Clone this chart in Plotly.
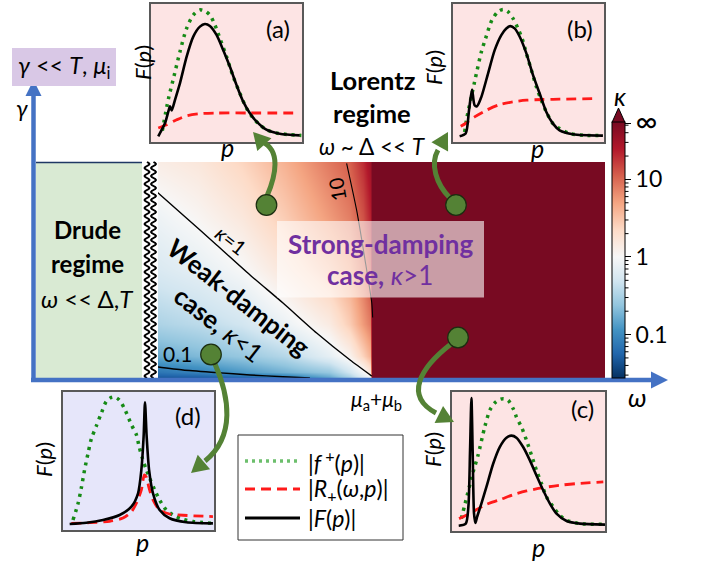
import math
import plotly.graph_objects as go

W, H = 704, 561
FONT = "Lato, 'Open Sans', sans-serif"

# ---------------- data: phase diagram (log10 kappa grid) ----------------
OMEGA_GRID = [-0.01, 0.2, 0.4, 0.6, 0.8, 0.9, 0.96, 0.99, 1.0, 2.074]
GAMMA_GRID = [0.0, 0.03, 0.1, 0.25, 0.5, 0.75, 1.0]
LOG_KAPPA = [
    [-1.35, -1.35, -1.30, -1.20, -0.85, -0.55, -0.25, -0.10, 1.74, 1.74],
    [-1.15, -1.05, -0.90, -0.75, -0.60, -0.30, -0.03, 0.20, 1.74, 1.74],
    [-0.80, -0.70, -0.60, -0.45, -0.15, 0.08, 0.40, 0.60, 1.74, 1.74],
    [-0.50, -0.42, -0.30, -0.10, 0.15, 0.45, 0.75, 0.90, 1.74, 1.74],
    [-0.25, -0.15, -0.01, 0.22, 0.50, 0.70, 0.95, 1.15, 1.74, 1.74],
    [-0.09, 0.04, 0.20, 0.45, 0.75, 0.90, 1.12, 1.35, 1.74, 1.74],
    [0.12, 0.20, 0.38, 0.62, 0.92, 1.05, 1.30, 1.50, 1.74, 1.74],
]
K1_OMEGA = [0.008, 0.129, 0.284, 0.438, 0.590, 0.745, 0.899, 0.999]
K1_GAMMA = [0.862, 0.755, 0.616, 0.477, 0.347, 0.208, 0.083, 0.009]
K01_OMEGA = [0.008, 0.129, 0.284, 0.438, 0.590, 0.714]
K01_GAMMA = [0.052, 0.037, 0.025, 0.014, 0.006, 0.0]
K10_OMEGA = [0.883, 0.929, 0.968, 0.999, 1.003]
K10_GAMMA = [0.994, 0.778, 0.546, 0.347, 0.28]

CB_MAJOR_VALS = [-1.0, 0.0, 1.0, 1.72]
CB_MAJOR_TEXT = ["0.1", "1", "10", "<span style='font-size:30px'>∞</span>"]
CB_MINOR_KAPPA = [0.03, 0.04, 0.05, 0.06, 0.07, 0.08, 0.09,
                  0.2, 0.3, 0.4, 0.5, 0.6, 0.7, 0.8, 0.9,
                  2, 3, 4, 5, 6, 7, 8, 9, 20, 30, 40, 50]

# ---------------- data: inset curves (normalised p, F) ----------------
A_GREEN_P = [0.075, 0.115, 0.152, 0.192, 0.236, 0.280, 0.324, 0.357, 0.390, 0.423, 0.460, 0.500,
             0.544, 0.588, 0.632, 0.676, 0.720, 0.764, 0.830, 0.919, 0.996]
A_GREEN_F = [0.082, 0.311, 0.475, 0.655, 0.824, 0.920, 0.957, 0.949, 0.920, 0.848, 0.740, 0.619,
             0.475, 0.354, 0.246, 0.173, 0.125, 0.089, 0.065, 0.053, 0.048]
A_BLACK_P = [0.048, 0.093, 0.115, 0.126, 0.137, 0.159, 0.192, 0.236, 0.280, 0.324, 0.357, 0.390,
             0.434, 0.478, 0.522, 0.566, 0.610, 0.654, 0.698, 0.764, 0.852, 0.985]
A_BLACK_F = [0.041, 0.137, 0.222, 0.258, 0.229, 0.306, 0.427, 0.619, 0.764, 0.836, 0.855, 0.841,
             0.776, 0.667, 0.547, 0.414, 0.294, 0.210, 0.149, 0.089, 0.060, 0.048]
A_RED_P = [0.048, 0.104, 0.170, 0.236, 0.324, 0.434, 0.654, 0.974]
A_RED_F = [0.101, 0.125, 0.161, 0.190, 0.205, 0.210, 0.210, 0.210]

B_GREEN_P = [0.077, 0.093, 0.143, 0.188, 0.216, 0.258, 0.298, 0.331, 0.364, 0.397, 0.430, 0.457,
             0.486, 0.519, 0.552, 0.585, 0.618, 0.662, 0.706, 0.773, 0.883, 0.993]
B_GREEN_F = [0.073, 0.182, 0.436, 0.654, 0.751, 0.884, 0.944, 0.961, 0.944, 0.896, 0.823, 0.751,
             0.642, 0.521, 0.400, 0.303, 0.218, 0.133, 0.097, 0.061, 0.048, 0.048]
B_BLACK_P = [0.044, 0.084, 0.106, 0.126, 0.143, 0.159, 0.188, 0.232, 0.276, 0.320, 0.353, 0.380,
             0.408, 0.442, 0.486, 0.530, 0.574, 0.618, 0.662, 0.706, 0.795, 0.993]
B_BLACK_F = [0.041, 0.061, 0.230, 0.380, 0.266, 0.259, 0.327, 0.496, 0.666, 0.775, 0.823, 0.840,
             0.823, 0.763, 0.642, 0.484, 0.351, 0.218, 0.133, 0.085, 0.056, 0.046]
B_RED_P = [0.051, 0.088, 0.143, 0.221, 0.309, 0.397, 0.486, 0.596, 0.706, 0.960]
B_RED_F = [0.114, 0.138, 0.182, 0.230, 0.271, 0.291, 0.303, 0.308, 0.310, 0.315]

C_GREEN_P = [0.061, 0.083, 0.138, 0.170, 0.214, 0.247, 0.279, 0.312, 0.338, 0.367, 0.400, 0.421,
             0.454, 0.487, 0.520, 0.552, 0.585, 0.618, 0.662, 0.705, 0.749, 0.836, 1.0]
C_GREEN_F = [0.089, 0.185, 0.424, 0.544, 0.748, 0.868, 0.921, 0.947, 0.952, 0.940, 0.880, 0.820,
             0.748, 0.652, 0.544, 0.436, 0.341, 0.245, 0.173, 0.113, 0.077, 0.053, 0.048]
C_BLACK_P = [0.044, 0.090, 0.107, 0.118, 0.127, 0.135, 0.144, 0.153, 0.164, 0.192, 0.225, 0.269,
             0.312, 0.356, 0.389, 0.421, 0.465, 0.509, 0.552, 0.596, 0.640, 0.683, 0.749, 0.836, 1.0]
C_BLACK_F = [0.038, 0.053, 0.173, 0.580, 0.957, 0.580, 0.125, 0.058, 0.101, 0.197, 0.317, 0.484,
             0.604, 0.671, 0.686, 0.671, 0.604, 0.508, 0.400, 0.293, 0.197, 0.125, 0.072, 0.053, 0.046]
C_RED_P = [0.046, 0.094, 0.159, 0.225, 0.312, 0.400, 0.487, 0.596, 0.705, 0.814, 0.989]
C_RED_F = [0.089, 0.113, 0.153, 0.192, 0.225, 0.261, 0.288, 0.312, 0.329, 0.341, 0.353]

D_GREEN_P = [0.066, 0.099, 0.121, 0.143, 0.166, 0.188, 0.221, 0.254, 0.287, 0.320, 0.342, 0.371,
             0.408, 0.453, 0.486, 0.503, 0.525, 0.552, 0.574, 0.607, 0.640, 0.684, 0.728, 0.795,
             0.861, 0.993]
D_GREEN_F = [0.073, 0.189, 0.303, 0.436, 0.557, 0.661, 0.755, 0.847, 0.932, 0.961, 0.964, 0.944,
             0.877, 0.763, 0.690, 0.610, 0.521, 0.436, 0.375, 0.291, 0.218, 0.145, 0.109, 0.077,
             0.061, 0.048]
D_BLACK_P = [0.044, 0.155, 0.265, 0.375, 0.453, 0.497, 0.519, 0.534, 0.543, 0.554, 0.570, 0.596,
             0.640, 0.706, 0.817, 0.993]
D_BLACK_F = [0.044, 0.053, 0.073, 0.109, 0.169, 0.266, 0.436, 0.678, 0.925, 0.678, 0.436, 0.266,
             0.145, 0.085, 0.056, 0.048]
D_RED_P = [0.055, 0.177, 0.309, 0.397, 0.453, 0.486, 0.519, 0.539, 0.552, 0.570, 0.596, 0.640,
           0.706, 0.795, 0.993]
D_RED_F = [0.048, 0.053, 0.063, 0.087, 0.133, 0.194, 0.291, 0.400, 0.383, 0.303, 0.218, 0.145,
           0.116, 0.107, 0.097]

LEGEND_LABELS = ["|<i>f</i><sup> +</sup>(<i>p</i>)|",
                 "|<i>R</i><sub>+</sub>(<i>ω</i>,<i>p</i>)|",
                 "|<i>F</i>(<i>p</i>)|"]

# ---------------- styles ----------------
GREEN_DOT = "#168a16"
RED = "#ff1a1a"
PINK_BG = "#fde4e4"
LAV_BG = "#e6e6fa"
ARROW_GREEN = "#548235"
AXIS_BLUE = "#4472c4"


def X(px):
    return px / W


def Y(py):
    return 1 - py / H


# colorscale (RdBu reversed) with white placed at kappa = 1
ZMIN, ZMAX = -1.56, 1.74
CB_BOTTOM, CB_TOP = 378, 122
mid = (0 - ZMIN) / (ZMAX - ZMIN)
lower = ["#053061", "#2166ac", "#4393c3", "#92c5de", "#d1e5f0", "#f7f7f7"]
upper = ["#f7f7f7", "#fddbc7", "#f4a582", "#d6604d", "#b2182b", "#780a22"]
cscale = [[mid * i / 5, c] for i, c in enumerate(lower)]
cscale += [[mid + (1 - mid) * i / 5, c] for i, c in enumerate(upper)][1:]

fig = go.Figure()

fig.add_trace(go.Heatmap(
    x=OMEGA_GRID, y=GAMMA_GRID, z=LOG_KAPPA, zsmooth="best",
    colorscale=cscale, zmin=ZMIN, zmax=ZMAX, hoverinfo="skip",
    xaxis="x", yaxis="y",
    colorbar=dict(
        x=X(612), xanchor="left", y=Y(CB_BOTTOM), yanchor="bottom",
        lenmode="pixels", len=CB_BOTTOM - CB_TOP, thicknessmode="pixels", thickness=13,
        xpad=0, ypad=0, outlinewidth=1, outlinecolor="black",
        tickvals=CB_MAJOR_VALS, ticktext=CB_MAJOR_TEXT,
        ticks="outside", ticklen=6, tickwidth=1, tickcolor="black",
        tickfont=dict(family=FONT, size=23, color="black"),
    ),
))

for xs, ys, w in [(K1_OMEGA, K1_GAMMA, 1.4), (K01_OMEGA, K01_GAMMA, 1.4), (K10_OMEGA, K10_GAMMA, 1.1)]:
    fig.add_trace(go.Scatter(x=xs, y=ys, mode="lines", xaxis="x", yaxis="y",
                             line=dict(color="black", width=w, shape="spline", smoothing=0.6),
                             hoverinfo="skip", showlegend=False))

insets = [
    ("2", (A_GREEN_P, A_GREEN_F), (A_RED_P, A_RED_F), (A_BLACK_P, A_BLACK_F)),
    ("3", (B_GREEN_P, B_GREEN_F), (B_RED_P, B_RED_F), (B_BLACK_P, B_BLACK_F)),
    ("4", (C_GREEN_P, C_GREEN_F), (C_RED_P, C_RED_F), (C_BLACK_P, C_BLACK_F)),
    ("5", (D_GREEN_P, D_GREEN_F), (D_RED_P, D_RED_F), (D_BLACK_P, D_BLACK_F)),
]
for k, g, r, b in insets:
    xa, ya = "x" + k, "y" + k
    fig.add_trace(go.Scatter(x=g[0], y=g[1], mode="lines", xaxis=xa, yaxis=ya, showlegend=False,
                             line=dict(color=GREEN_DOT, width=3.5, dash="3px,5px", shape="spline", smoothing=0.8)))
    fig.add_trace(go.Scatter(x=r[0], y=r[1], mode="lines", xaxis=xa, yaxis=ya, showlegend=False,
                             line=dict(color=RED, width=2.8, dash="10px,6px", shape="spline", smoothing=0.8)))
    fig.add_trace(go.Scatter(x=b[0], y=b[1], mode="lines", xaxis=xa, yaxis=ya, showlegend=False,
                             line=dict(color="black", width=2.6, shape="spline", smoothing=0.7)))

inset_boxes = {"2": (151, 302, 4, 142), "3": (453, 604, 4, 142),
               "4": (452, 605, 392, 531), "5": (63, 214, 392, 530)}
inset_bg = {"2": PINK_BG, "3": PINK_BG, "4": PINK_BG, "5": LAV_BG}

layout = dict(
    width=W, height=H, margin=dict(l=0, r=0, t=0, b=0),
    paper_bgcolor="white", plot_bgcolor="rgba(0,0,0,0)", showlegend=False,
    font=dict(family=FONT, color="black"),
    xaxis=dict(domain=[X(153), X(605)], range=[(153 - 155) / 217, (605 - 155) / 217], visible=False, anchor="y"),
    yaxis=dict(domain=[Y(378), Y(162)], range=[0, 1], visible=False, anchor="x"),
)
shapes = []
for k, (x0, x1, y0, y1) in inset_boxes.items():
    ax = dict(range=[0, 1], showline=True, mirror=True, linecolor="#595959",
              linewidth=1.5, showticklabels=False, showgrid=False, zeroline=False, ticks="")
    layout["xaxis" + k] = dict(ax, domain=[X(x0), X(x1)], anchor="y" + k)
    layout["yaxis" + k] = dict(ax, domain=[Y(y1), Y(y0)], anchor="x" + k)
    shapes.append(dict(type="rect", xref="x%s domain" % k, yref="y%s domain" % k, x0=0, x1=1, y0=0, y1=1,
                       fillcolor=inset_bg[k], line=dict(width=0), layer="below"))


def rect(x0, y0, x1, y1, fill, line=None, layer="above"):
    return dict(type="rect", xref="paper", yref="paper", x0=X(x0), x1=X(x1), y0=Y(y1), y1=Y(y0),
                fillcolor=fill, line=line or dict(width=0), layer=layer)


def pline(x0, y0, x1, y1, color, width, dash="solid"):
    return dict(type="line", xref="paper", yref="paper", x0=X(x0), x1=X(x1), y0=Y(y0), y1=Y(y1),
                line=dict(color=color, width=width, dash=dash), layer="above")


def ppath(points, fill=None, color="black", width=0, closed=False, curve=False):
    if curve:
        (a, b, c, d) = points
        s = "M %f,%f C %f,%f %f,%f %f,%f" % (X(a[0]), Y(a[1]), X(b[0]), Y(b[1]), X(c[0]), Y(c[1]), X(d[0]), Y(d[1]))
    else:
        s = "M " + " L ".join("%f,%f" % (X(p[0]), Y(p[1])) for p in points)
        if closed:
            s += " Z"
    sh = dict(type="path", xref="paper", yref="paper", path=s, layer="above",
              line=dict(color=color, width=width))
    if fill:
        sh["fillcolor"] = fill
    return sh


def arrowhead(tip, frm, length=17, width=19, color=ARROW_GREEN):
    dx, dy = tip[0] - frm[0], tip[1] - frm[1]
    n = math.hypot(dx, dy)
    ux, uy = dx / n, dy / n
    bx, by = tip[0] - ux * length, tip[1] - uy * length
    px, py = -uy, ux
    return ppath([tip, (bx + px * width / 2, by + py * width / 2), (bx - px * width / 2, by - py * width / 2)],
                 fill=color, color=color, width=0, closed=True)


# Drude region
shapes.append(rect(36, 162.5, 144, 378, "#d9ead3"))
shapes.append(pline(36, 162.5, 144, 162.5, "#1f3864", 1.5))
# wavy break
shapes.append(rect(142, 161, 158, 379, "white"))
for xc in (147.0, 153.5):
    pts = []
    yy = 162.0
    while yy <= 378.0:
        pts.append((xc + 2.4 * math.sin(2 * math.pi * (yy - 162) / 8.0), yy))
        yy += 1.0
    shapes.append(ppath(pts, color="black", width=2))
# axes arrows
shapes.append(pline(33.5, 382, 33.5, 94, AXIS_BLUE, 4.5))
shapes.append(ppath([(33.5, 80), (25.5, 96), (41.5, 96)], fill=AXIS_BLUE, color=AXIS_BLUE, closed=True))
shapes.append(pline(31, 380, 652, 380, AXIS_BLUE, 4.5))
shapes.append(ppath([(668, 380), (651, 371.5), (651, 388.5)], fill=AXIS_BLUE, color=AXIS_BLUE, closed=True))
# gamma label box
shapes.append(rect(12, 48, 116, 86, "#d9c8e6"))
# strong-damping box
shapes.append(rect(277, 221, 484, 297.5, "rgba(255,255,255,0.6)"))
# colorbar extension triangle and minor ticks
shapes.append(ppath([(612, 122.5), (625, 122.5), (618.5, 108)], fill="#780a22", color="black", width=1, closed=True))
for kv in CB_MINOR_KAPPA:
    ty = CB_BOTTOM - (math.log10(kv) - ZMIN) / (ZMAX - ZMIN) * (CB_BOTTOM - CB_TOP)
    shapes.append(pline(625, ty, 628.5, ty, "black", 1))
# green curved arrows
arrows = [
    ((267, 196), (276, 175), (281, 150), (262, 142), (253, 132)),
    ((450, 198), (436, 184), (430, 164), (438, 150), (448, 132)),
    ((451, 344), (420, 368), (404, 396), (436, 413), (454, 422)),
    ((215, 364), (229, 396), (236, 436), (205, 461), (191, 473)),
]
for p0, c1, c2, p3, tip in arrows:
    shapes.append(ppath([p0, c1, c2, p3], color=ARROW_GREEN, width=5, curve=True))
    shapes.append(arrowhead(tip, p3))
# circles
for cx, cy in [(266.5, 205), (456, 205), (458, 337.5), (211, 354.5)]:
    r = 10.3
    shapes.append(dict(type="circle", xref="paper", yref="paper", x0=X(cx - r), x1=X(cx + r),
                       y0=Y(cy + r), y1=Y(cy - r), fillcolor=ARROW_GREEN,
                       line=dict(color="#1b2e10", width=1.2), layer="above"))
# manual legend
shapes.append(rect(238, 435, 403, 540, "white", line=dict(color="#333333", width=1)))
shapes.append(pline(245, 461, 300, 461, "#6cbf6c", 3.5, "3px,4px"))
shapes.append(pline(245, 489, 300, 489, RED, 3, "10px,6px"))
shapes.append(pline(245, 518, 300, 518, "black", 3))

layout["shapes"] = shapes

ann = []


def A(text, px, py, size, angle=0, color="black", xanchor="center"):
    ann.append(dict(text=text, x=X(px), y=Y(py), xref="paper", yref="paper", showarrow=False,
                    xanchor=xanchor, yanchor="middle", textangle=angle,
                    font=dict(family=FONT, size=size, color=color)))


A("<i>γ</i> &lt;&lt; <i>T</i>, <i>μ</i><sub>i</sub>", 64, 67, 23.5)
A("<i>γ</i>", 22, 108, 23)
A("<b>Drude</b>", 87, 230, 24)
A("<b>regime</b>", 87, 263, 24)
A("<i>ω</i> &lt;&lt; Δ,<i>T</i>", 87, 298, 24)
A("<b>Lorentz</b>", 372, 80, 25.5)
A("<b>regime</b>", 372, 113, 25.5)
A("<i>ω</i> ~ Δ &lt;&lt; <i>T</i>", 372, 147, 22.5)
A("<b>Strong-damping</b>", 380, 244, 26, color="#7030a0")
A("<b>case,</b> <i>κ</i>&gt;1", 380, 275, 26, color="#7030a0")
A("<b>Weak-damping</b>", 239, 297, 25.5, angle=38)
A("<b>case,</b> <i>κ</i>&lt;1", 219, 324, 25.5, angle=38)
A("<i>κ</i>=1", 231, 240, 20, angle=38)
A("0.1", 177, 353, 21)
A("10", 337, 190, 20, angle=-100)
A("<i>ω</i>", 637, 397, 26)
A("<i>μ</i><sub>a</sub>+<i>μ</i><sub>b</sub>", 376, 400, 21)
A("<i>κ</i>", 620, 96, 25)
for lab, (lx, ly), (fx, fy), (px_, py_) in [
    ("(a)", (278, 28), (142, 63), (227, 147)),
    ("(b)", (580, 28), (433, 68), (537, 148)),
    ("(c)", (582, 408), (432, 450), (538, 547)),
    ("(d)", (188, 415), (43, 460), (142, 542)),
]:
    A(lab, lx, ly, 24)
    A("<i>F</i>(<i>p</i>)", fx, fy, 22, angle=-90)
    A("<i>p</i>", px_, py_, 25)
for i, t in enumerate(LEGEND_LABELS):
    A(t, 306, [461, 489, 518][i], 23, xanchor="left")

layout["annotations"] = ann
fig.update_layout(**layout)
fig.write_html("out.html", config={"displayModeBar": False},
               post_script="document.body.style.margin='0';document.body.style.overflow='hidden';")
